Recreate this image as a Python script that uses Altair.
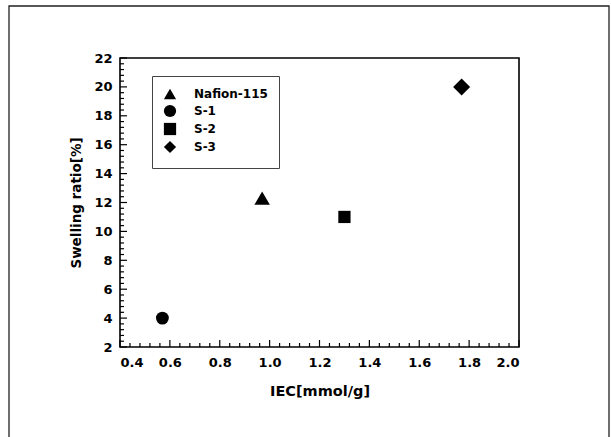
import altair as alt
import pandas as pd

# ---- data ----
samples = ["Nafion-115", "S-1", "S-2", "S-3"]
iec = [0.97, 0.57, 1.30, 1.77]
swelling = [12.3, 4.0, 11.0, 20.0]
shapes = ["triangle-up", "circle", "square", "diamond"]
sizes = [240, 165, 150, 290]

x_ticks = [0.4, 0.6, 0.8, 1.0, 1.2, 1.4, 1.6, 1.8, 2.0]
y_ticks = [2, 4, 6, 8, 10, 12, 14, 16, 18, 20, 22]
x_minor = [round(0.4 + 0.04 * i, 2) for i in range(41) if i % 5]
y_minor = [round(2 + 0.4 * i, 1) for i in range(51) if i % 5]

df = pd.DataFrame({"sample": samples, "iec": iec, "swelling": swelling, "size": sizes})

FONT = "DejaVu Sans"
W, H = 399, 289

xs = alt.Scale(domain=[0.4, 2.0], nice=False, zero=False)
ys = alt.Scale(domain=[2, 22], nice=False, zero=False)

xaxis = alt.Axis(
    values=x_ticks, format=".1f", labelPadding=9,
    labelFont=FONT, labelFontSize=13, labelFontWeight="bold", labelColor="black",
    title="IEC[mmol/g]", titleFont=FONT, titleFontSize=14.5, titleFontWeight="bold",
    titlePadding=15)
yaxis = alt.Axis(
    values=y_ticks, format="d", labelPadding=8,
    labelFont=FONT, labelFontSize=13, labelFontWeight="bold", labelColor="black",
    title="Swelling ratio[%]", titleFont=FONT, titleFontSize=13.5, titleFontWeight="bold",
    titlePadding=10)

frame = alt.Chart(pd.DataFrame({"a": [0]})).mark_rect(
    fill="white", fillOpacity=0, stroke="#222", strokeWidth=1.3
).encode(
    x=alt.value(-111), x2=alt.value(489), y=alt.value(-52), y2=alt.value(390)
)

def xtick_layer(vals, length):
    return alt.Chart(pd.DataFrame({"v": vals})).mark_rule(color="black", strokeWidth=1.2).encode(
        x=alt.X("v:Q", scale=xs, axis=xaxis),
        y=alt.value(H), y2=alt.value(H - length),
    )

def ytick_layer(vals, length):
    return alt.Chart(pd.DataFrame({"v": vals})).mark_rule(color="black", strokeWidth=1.2).encode(
        y=alt.Y("v:Q", scale=ys, axis=yaxis),
        x=alt.value(0), x2=alt.value(length),
    )

points = alt.Chart(df).mark_point(filled=True, opacity=1, color="black").encode(
    x=alt.X("iec:Q", scale=xs, axis=xaxis),
    y=alt.Y("swelling:Q", scale=ys, axis=yaxis),
    shape=alt.Shape("sample:N", scale=alt.Scale(domain=samples, range=shapes),
                    legend=alt.Legend(
                        title=None, orient="none", legendX=32, legendY=18,
                        strokeColor="#444", fillColor="white", padding=11,
                        symbolSize=150, symbolFillColor="black", symbolStrokeColor="black",
                        labelFontSize=12, labelFontWeight="bold", labelFont=FONT,
                        labelColor="black", rowPadding=-2, labelOffset=17)),
    size=alt.Size("size:Q", scale=None, legend=None),
)

chart = alt.layer(
    frame,
    xtick_layer(x_ticks, 7), xtick_layer(x_minor, 4),
    ytick_layer(y_ticks, 7), ytick_layer(y_minor, 4),
    points,
).properties(
    width=W, height=H,
    autosize=alt.AutoSizeParams(type="none"),
    padding={"left": 120, "top": 58, "right": 92, "bottom": 90},
    background="white",
).configure(font=FONT).configure_view(
    stroke="black", strokeWidth=1.6
).configure_axis(
    ticks=False, domain=False, grid=False,
    labelFont=FONT, labelFontSize=13, labelFontWeight="bold", labelColor="black",
    titleColor="black",
)

chart.save("out.html", embed_options={"renderer": "svg", "actions": False})
